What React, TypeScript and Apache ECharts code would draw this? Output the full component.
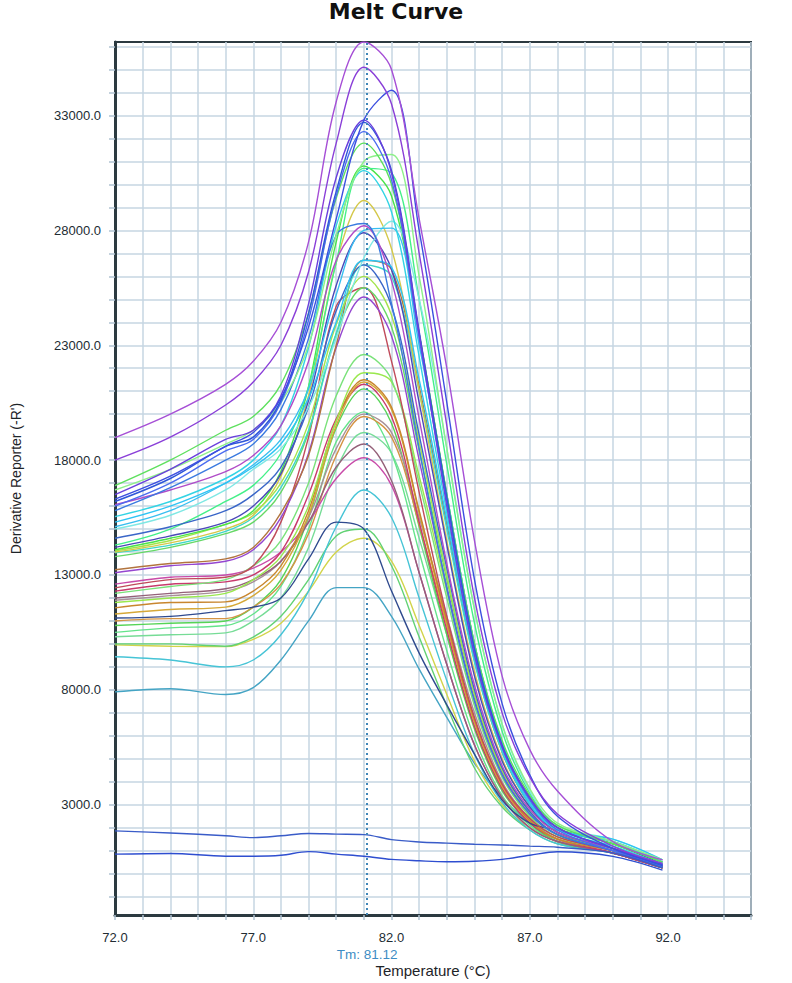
import { useEffect, useRef } from "react";
import * as echarts from "echarts";

// Temperatures (°C) at which each melt curve is sampled
const temperatures = [72, 74, 76, 77, 78, 79, 80, 81, 82, 83, 84, 85, 86, 87, 88, 90, 91.8];

// Derivative reporter (-R') values, one array per well
const wellA = [18980, 20000, 21300, 22300, 24000, 27500, 33600, 36200, 35000, 28500, 22000, 14500, 8600, 5400, 3600, 1400, 600];
const wellB = [18000, 19000, 20400, 21400, 23000, 26200, 31800, 35100, 33500, 27000, 19500, 12000, 7000, 4200, 2600, 1200, 450];
const wellC = [16300, 17300, 18600, 19200, 20700, 23800, 28500, 32800, 34100, 28000, 20500, 12800, 7400, 4300, 2500, 1100, 400];
const wellD = [16500, 17600, 18900, 19300, 20800, 24800, 30300, 32800, 30500, 23500, 16000, 9500, 5500, 3300, 2000, 1100, 400];
const wellE = [16200, 17200, 18600, 19000, 20600, 24400, 29700, 32700, 30600, 23600, 16400, 9800, 5600, 3300, 2000, 1100, 350];
const wellF = [16000, 17000, 18400, 18900, 20500, 24100, 29500, 32300, 30200, 23300, 16200, 9700, 5500, 3200, 1900, 1000, 350];
const wellG = [15800, 16800, 18000, 18700, 20200, 23300, 27800, 28300, 24800, 18500, 12400, 7500, 4300, 2600, 1700, 1000, 300];
const wellH = [16890, 18000, 19300, 19900, 21300, 24400, 29400, 31800, 30000, 23500, 16500, 10000, 5800, 3400, 2100, 1300, 500];
const wellI = [16700, 17600, 18700, 19300, 20500, 23000, 27800, 31000, 31300, 26000, 18500, 11500, 6500, 3700, 2200, 1400, 600];
const wellJ = [16060, 16700, 17500, 18200, 19500, 22300, 26700, 28200, 25800, 19800, 13500, 8200, 4700, 2800, 1800, 1100, 350];
const wellK = [15540, 16200, 17200, 18000, 19500, 22900, 28200, 30600, 28800, 22500, 15700, 9500, 5400, 3100, 1900, 1200, 400];
const wellL = [15100, 15800, 17000, 17800, 18900, 21100, 25200, 28000, 28100, 23000, 16500, 10000, 5700, 3200, 1900, 1400, 500];
const wellM = [15000, 15600, 16700, 17600, 18500, 20300, 23300, 26800, 28400, 25000, 18500, 11500, 6500, 3600, 2100, 1500, 600];
const wellN = [14200, 14700, 15300, 16000, 17400, 20600, 25600, 27900, 26300, 20500, 14300, 8600, 4900, 2900, 1800, 1100, 350];
const wellO = [14100, 14600, 15200, 15800, 17500, 21200, 27500, 30800, 29500, 23500, 16500, 10000, 5600, 3300, 2000, 1300, 500];
const wellP = [14000, 14400, 15000, 15600, 17300, 20800, 26600, 29300, 27200, 21000, 14500, 8800, 5000, 2900, 1800, 1100, 350];
const wellQ = [13970, 14300, 14900, 15500, 16800, 19300, 23500, 26500, 26000, 21000, 15000, 9200, 5300, 3000, 1800, 1200, 400];
const wellR = [13800, 14200, 14800, 15300, 16600, 19200, 23500, 25500, 23800, 18400, 12800, 7800, 4500, 2700, 1700, 1100, 350];
const wellS = [13230, 13500, 13700, 14200, 15700, 18200, 23000, 26700, 26300, 21200, 15200, 9300, 5300, 3000, 1800, 1100, 350];
const wellT = [13100, 13400, 13600, 14100, 15500, 18300, 22900, 25100, 23400, 18000, 12500, 7600, 4400, 2600, 1700, 1000, 300];
const wellU = [12440, 12800, 12900, 13400, 15300, 19000, 24700, 25500, 22300, 16600, 11200, 6800, 3900, 2400, 1600, 1000, 300];
const wellV = [14600, 15100, 15800, 16500, 17700, 20300, 24500, 26500, 24700, 19100, 13300, 8000, 4600, 2700, 1700, 1000, 300];
const wellW = [12200, 12500, 12800, 13400, 14500, 17000, 20800, 22600, 21500, 17000, 12000, 7300, 4200, 2500, 1600, 1000, 300];
const wellX = [11800, 12000, 12200, 12800, 13800, 16000, 19700, 21800, 21400, 17300, 12300, 7500, 4300, 2500, 1600, 1000, 300];
const wellY = [11570, 11800, 11830, 12300, 13400, 15800, 19700, 21500, 20300, 15800, 11000, 6700, 3900, 2300, 1500, 1000, 300];
const wellZ = [11300, 11500, 11600, 12100, 13200, 15600, 19500, 21400, 20200, 15700, 10900, 6600, 3800, 2300, 1500, 1000, 300];
const wellAA = [12300, 12600, 12700, 13000, 14000, 16500, 19800, 21300, 19900, 15300, 10600, 6400, 3700, 2200, 1500, 900, 250];
const wellAB = [10800, 10900, 11000, 11600, 12800, 15500, 19400, 21100, 19600, 15100, 10400, 6300, 3600, 2200, 1400, 900, 250];
const wellAC = [11900, 12100, 12300, 12700, 13600, 15500, 18500, 20000, 19200, 15500, 11200, 7000, 4000, 2400, 1500, 1000, 300];
const wellAD = [10500, 10700, 10800, 11300, 12500, 15000, 18800, 20100, 18300, 14000, 9700, 5900, 3400, 2100, 1400, 900, 250];
const wellAE = [10310, 10400, 10480, 11000, 12000, 14200, 17600, 19200, 18300, 14600, 10400, 6400, 3700, 2200, 1400, 900, 250];
const wellAF = [12000, 12200, 12400, 12800, 13600, 15300, 17700, 18700, 17100, 13100, 9100, 5600, 3300, 2000, 1400, 900, 250];
const wellAG = [12600, 12900, 13000, 13300, 14000, 15300, 17200, 18100, 16900, 13100, 9100, 5600, 3300, 2000, 1400, 900, 250];
const wellAH = [9440, 9300, 9000, 9300, 10400, 12300, 15100, 16700, 15500, 12000, 8400, 5200, 3100, 1900, 1300, 900, 250];
const wellAI = [11130, 11200, 11450, 11600, 12000, 13700, 15300, 15000, 12300, 9600, 7350, 5200, 3200, 2200, 1900, 1300, 400];
const wellAJ = [10000, 10000, 9900, 10300, 11200, 12800, 14700, 15000, 13400, 10300, 7300, 4600, 2900, 1900, 1300, 900, 250];
const wellAK = [9960, 9900, 9880, 10200, 10900, 12300, 14000, 14600, 13600, 10800, 7800, 4900, 3000, 2000, 1400, 900, 250];
const wellAL = [7910, 8050, 7800, 8100, 9300, 11000, 12450, 12450, 11200, 8900, 6800, 4800, 3300, 2200, 1500, 1000, 300];
const wellAM = [14050, 14500, 15200, 15700, 17000, 19600, 23900, 26000, 24300, 18800, 13000, 7800, 4500, 2700, 1700, 1100, 400];
const wellAN = [15300, 16000, 17000, 17700, 18700, 20700, 24000, 26700, 26400, 21500, 15400, 9400, 5400, 3000, 1900, 1500, 600];
const wellAO = [14300, 15000, 16200, 16900, 18300, 21200, 26600, 30700, 30500, 25000, 17800, 10900, 6200, 3500, 2100, 1400, 500];
const wellAP = [11000, 11100, 11100, 11600, 12600, 14800, 18200, 19900, 19000, 15200, 10800, 6600, 3800, 2300, 1500, 900, 250];
const ntcUpper = [1860, 1770, 1650, 1570, 1650, 1750, 1720, 1700, 1480, 1380, 1330, 1280, 1250, 1200, 1150, 900, 250];
const ntcLower = [850, 880, 760, 760, 800, 960, 850, 760, 620, 560, 520, 540, 620, 800, 950, 750, 150];

const wells: { values: number[]; color: string }[] = [
  { values: wellAL, color: "#44a4c4" },
  { values: wellAK, color: "#d2d44a" },
  { values: wellAJ, color: "#62d274" },
  { values: wellAH, color: "#46c4d6" },
  { values: wellAE, color: "#76dc96" },
  { values: wellAD, color: "#64e48a" },
  { values: wellAB, color: "#56d456" },
  { values: wellAP, color: "#d49444" },
  { values: wellAC, color: "#a89098" },
  { values: wellAG, color: "#c84aa8" },
  { values: wellAF, color: "#946078" },
  { values: wellAA, color: "#c83a6c" },
  { values: wellZ, color: "#d6a838" },
  { values: wellY, color: "#c8862e" },
  { values: wellX, color: "#9ae84e" },
  { values: wellW, color: "#7ae27a" },
  { values: wellAI, color: "#2f4a8e" },
  { values: wellU, color: "#c04a5a" },
  { values: wellT, color: "#9446d0" },
  { values: wellS, color: "#b2743e" },
  { values: wellR, color: "#66d866" },
  { values: wellQ, color: "#3ed8c8" },
  { values: wellP, color: "#d4c84a" },
  { values: wellAM, color: "#a4e44a" },
  { values: wellO, color: "#48e448" },
  { values: wellN, color: "#4a48b8" },
  { values: wellAO, color: "#44f088" },
  { values: wellV, color: "#3a66c8" },
  { values: wellM, color: "#7fe8e4" },
  { values: wellL, color: "#38bff0" },
  { values: wellAN, color: "#2ec4f4" },
  { values: wellK, color: "#33d4e4" },
  { values: wellJ, color: "#b04cc8" },
  { values: wellG, color: "#3a7ae0" },
  { values: wellI, color: "#8ef08a" },
  { values: wellH, color: "#5ee05e" },
  { values: wellF, color: "#4a6cf0" },
  { values: wellE, color: "#2f57d8" },
  { values: wellD, color: "#6a3fdc" },
  { values: wellC, color: "#3c4fe0" },
  { values: wellB, color: "#8a3fd8" },
  { values: wellA, color: "#a64fd6" },
  { values: ntcUpper, color: "#3a5cc8" },
  { values: ntcLower, color: "#2e4ed0" },
];

// Axis ticks / labels
const xLabelValues = [72, 77, 82, 87, 92];
const yLabelValues = [3000, 8000, 13000, 18000, 23000, 28000, 33000];
const yGridValues = [
  -1000, 0, 1000, 2000, 3000, 4000, 5000, 6000, 7000, 8000, 9000, 10000, 11000, 12000, 13000,
  14000, 15000, 16000, 17000, 18000, 19000, 20000, 21000, 22000, 23000, 24000, 25000, 26000,
  27000, 28000, 29000, 30000, 31000, 32000, 33000, 34000, 35000, 36000,
];
const tmValue = 81.12;

export default function App() {
  const ref = useRef<HTMLDivElement>(null);

  useEffect(() => {
    if (!ref.current) return;
    const chart = echarts.init(ref.current, undefined, { renderer: "svg" });
    const font = "Liberation Sans";
    const gridColor = "#c6d6e2";
    const frameColor = "#2c3a40";

    const series: any[] = wells.map((w, i) => ({
      type: "line",
      data: temperatures.map((t, k) => [t, w.values[k]]),
      showSymbol: false,
      symbol: "none",
      smooth: 0.35,
      silent: true,
      lineStyle: { width: 1.4, color: w.color },
      emphasis: { disabled: true },
      z: 2 + i * 0.01,
    }));

    series.push({
      type: "line",
      data: [],
      silent: true,
      markLine: {
        silent: true,
        symbol: "none",
        animation: false,
        lineStyle: { type: [2, 3], color: "#3f86b8", width: 2 },
        label: {
          show: true,
          position: "start",
          distance: 32,
          formatter: "Tm: " + tmValue.toFixed(2),
          color: "#3d8cc4",
          fontFamily: font,
          fontSize: 13.5,
        },
        data: [{ xAxis: tmValue }],
      },
      z: 5,
    });

    chart.setOption({
      animation: false,
      backgroundColor: "#ffffff",
      title: {
        text: "Melt Curve",
        left: "center",
        top: 0,
        padding: 0,
        textStyle: { fontFamily: "DejaVu Sans", fontWeight: "bold", fontSize: 22, color: "#111111" },
      },
      grid: {
        left: 115,
        top: 42,
        right: 41,
        bottom: 67,
        show: true,
        borderColor: frameColor,
        borderWidth: 2,
        backgroundColor: "transparent",
      },
      xAxis: {
        type: "value",
        min: 72,
        max: 95,
        interval: 1,
        name: "Temperature (°C)",
        nameLocation: "middle",
        nameGap: 48,
        nameTextStyle: { fontFamily: font, fontSize: 15, color: "#1e2428" },
        axisLine: { show: true, onZero: false, lineStyle: { color: frameColor, width: 3 } },
        axisTick: { show: true, length: 5, lineStyle: { color: "#b0c3d2", width: 1.5 } },
        axisLabel: {
          margin: 16,
          fontFamily: font,
          fontSize: 13,
          color: "#222c33",
          formatter: (v: number) => (xLabelValues.includes(v) ? v.toFixed(1) : ""),
        },
        splitLine: { show: true, lineStyle: { color: gridColor, width: 1.5 } },
      },
      yAxis: {
        type: "value",
        min: -1800,
        max: 36200,
        name: "Derivative Reporter (-R')",
        nameLocation: "middle",
        nameGap: 92,
        nameRotate: 90,
        nameTextStyle: { fontFamily: font, fontSize: 14, color: "#1e2428" },
        axisLine: { show: true, onZero: false, lineStyle: { color: frameColor, width: 3 } },
        axisTick: { show: true, length: 6, customValues: yGridValues, lineStyle: { color: "#b0c3d2", width: 1.5 } },
        axisLabel: {
          margin: 14,
          fontFamily: font,
          fontSize: 13,
          color: "#222c33",
          customValues: yLabelValues,
          formatter: (v: number) => v.toFixed(1),
        },
        splitLine: { show: true, lineStyle: { color: gridColor, width: 1.5 } },
      },
      series,
    });

    return () => chart.dispose();
  }, []);

  return (
    <div
      ref={ref}
      style={{ position: "absolute", left: 0, top: 0, width: 792, height: 983, background: "#fff" }}
    />
  );
}
